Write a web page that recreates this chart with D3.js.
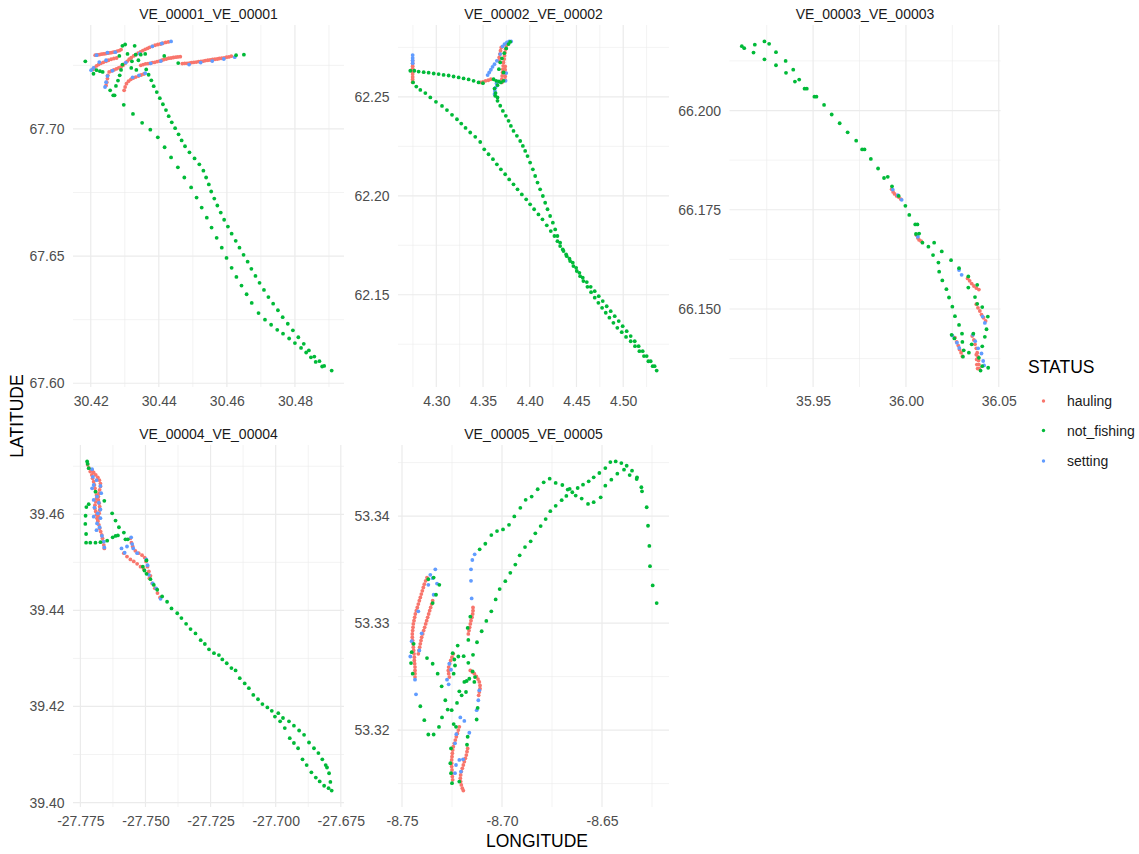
<!DOCTYPE html>
<html>
<head>
<meta charset="utf-8">
<script src="https://cdn.jsdelivr.net/npm/d3@7"></script>
<style>
  body { margin: 0; background: #ffffff; }
  svg { display: block; }
</style>
</head>
<body>
<svg id="chart" width="1139" height="854"></svg>
<script>
// Fishing status categories and their colours
const statuses = ["hauling", "not_fishing", "setting"];
const statusColors = ["#F8766D", "#00BA38", "#619CFF"];
const drawOrder = ["hauling", "setting", "not_fishing"];

// ---------- VE_00001 positions [longitude, latitude] ----------
const ve1Hauling = [
  [30.4213,67.7290],[30.4219,67.7291],[30.4225,67.7292],[30.4231,67.7294],[30.4237,67.7295],[30.4243,67.7296],[30.4249,67.7298],[30.4254,67.7299],[30.4260,67.7300],[30.4266,67.7302],[30.4272,67.7303],[30.4278,67.7306],[30.4284,67.7308],[30.4289,67.7312],
  [30.4206,67.7234],[30.4211,67.7241],[30.4217,67.7248],[30.4223,67.7253],[30.4230,67.7258],[30.4237,67.7262],[30.4245,67.7266],[30.4252,67.7270],[30.4260,67.7274],[30.4268,67.7277],[30.4276,67.7279],
  [30.4254,67.7224],[30.4261,67.7228],[30.4268,67.7232],[30.4275,67.7236],[30.4282,67.7240],[30.4289,67.7244],[30.4295,67.7250],[30.4301,67.7258],[30.4307,67.7266],[30.4313,67.7274],[30.4319,67.7280],[30.4326,67.7287],[30.4332,67.7292],[30.4339,67.7298],[30.4346,67.7303],[30.4353,67.7308],[30.4360,67.7313],[30.4367,67.7317],[30.4373,67.7321],[30.4381,67.7325],[30.4389,67.7329],[30.4397,67.7332],[30.4405,67.7334],[30.4412,67.7337],[30.4420,67.7340],[30.4428,67.7342],
  [30.4347,67.7250],[30.4354,67.7253],[30.4361,67.7256],[30.4368,67.7257],[30.4374,67.7258],[30.4381,67.7261],[30.4388,67.7262],[30.4395,67.7265],[30.4402,67.7267],[30.4409,67.7270],[30.4415,67.7273],[30.4422,67.7275],[30.4429,67.7278],[30.4436,67.7279],[30.4443,67.7281],[30.4450,67.7282],[30.4456,67.7283],[30.4463,67.7284],
  [30.4469,67.7257],[30.4476,67.7258],[30.4483,67.7258],[30.4490,67.7259],[30.4496,67.7261],[30.4503,67.7262],[30.4510,67.7263],[30.4517,67.7265],[30.4524,67.7266],[30.4531,67.7267],[30.4537,67.7269],[30.4544,67.7270],[30.4551,67.7271],[30.4558,67.7273],[30.4565,67.7274],[30.4572,67.7275],[30.4578,67.7277],[30.4585,67.7278],[30.4592,67.7279],[30.4599,67.7282],[30.4606,67.7283],[30.4613,67.7286],
  [30.4298,67.7152],[30.4301,67.7165],[30.4305,67.7178],[30.4311,67.7188],[30.4318,67.7195],[30.4325,67.7200],[30.4332,67.7204],[30.4340,67.7208],[30.4348,67.7212],[30.4356,67.7216],
  [30.4245,67.7171],[30.4247,67.7184],[30.4249,67.7198],[30.4250,67.7211]
];
const ve1Setting = [
  [30.4201,67.7231],[30.4208,67.7240],[30.4217,67.7290],[30.4249,67.7300],[30.4272,67.7302],[30.4225,67.7263],[30.4245,67.7270],[30.4264,67.7229],[30.4303,67.7261],[30.4381,67.7325],[30.4409,67.7336],[30.4436,67.7344],[30.4376,67.7258],[30.4406,67.7267],[30.4489,67.7253],[30.4523,67.7261],[30.4557,67.7267],[30.4591,67.7275],[30.4623,67.7282],[30.4323,67.7203],[30.4342,67.7211],[30.4360,67.7219],[30.4242,67.7165],[30.4245,67.7184],[30.4249,67.7208],[30.4344,67.7296]
];
const ve1NotFishing = [
  [30.4184,67.7266],[30.4208,67.7217],[30.4217,67.7231],[30.4227,67.7227],[30.4235,67.7224],[30.4257,67.7152],[30.4266,67.7132],[30.4274,67.7169],[30.4280,67.7190],[30.4285,67.7211],[30.4289,67.7232],[30.4293,67.7253],[30.4284,67.7287],[30.4293,67.7327],[30.4301,67.7332],[30.4329,67.7327],[30.4308,67.7295],[30.4332,67.7292],[30.4347,67.7292],[30.4360,67.7295],[30.4321,67.7266],[30.4340,67.7270],[30.4319,67.7240],[30.4334,67.7232],[30.4416,67.7287],[30.4457,67.7259],[30.4627,67.7290],[30.4650,67.7292],
  [30.4270,67.7132],[30.4297,67.7095],[30.4324,67.7059],[30.4351,67.7024],[30.4375,67.6997],[30.4397,67.6967],[30.4417,67.6928],[30.4436,67.6888],[30.4456,67.6849],[30.4475,67.6809],[30.4495,67.6770],[30.4511,67.6730],[30.4526,67.6691],[30.4541,67.6651],[30.4555,67.6612],[30.4570,67.6572],[30.4585,67.6533],[30.4599,67.6493],[30.4614,67.6454],[30.4628,67.6418],[30.4643,67.6384],[30.4658,67.6350],[30.4673,67.6316],[30.4693,67.6276],[30.4712,67.6250],[30.4730,67.6230],[30.4748,67.6210],[30.4765,67.6195],[30.4783,67.6176],[30.4800,67.6158],[30.4818,67.6139],[30.4833,67.6121],[30.4847,67.6102],[30.4861,67.6084],[30.4880,67.6066],[30.4908,67.6050],
  [30.4363,67.7234],[30.4370,67.7213],[30.4378,67.7191],[30.4385,67.7168],[30.4394,67.7145],[30.4403,67.7121],[30.4412,67.7097],[30.4421,67.7074],[30.4429,67.7050],[30.4438,67.7026],[30.4448,67.7003],[30.4458,67.6979],[30.4467,67.6955],[30.4477,67.6932],[30.4490,67.6908],[30.4505,67.6884],[30.4519,67.6861],[30.4531,67.6836],[30.4539,67.6809],[30.4547,67.6782],[30.4554,67.6754],[30.4563,67.6726],[30.4572,67.6699],[30.4582,67.6671],[30.4592,67.6643],[30.4603,67.6616],[30.4614,67.6588],[30.4626,67.6560],[30.4637,67.6533],[30.4649,67.6505],[30.4661,67.6478],[30.4672,67.6450],[30.4684,67.6422],[30.4696,67.6395],[30.4709,67.6367],[30.4722,67.6339],[30.4736,67.6313],[30.4750,67.6287],[30.4764,67.6260],[30.4779,67.6234],[30.4794,67.6208],[30.4810,67.6181],[30.4826,67.6155],[30.4841,67.6129],[30.4857,67.6105],[30.4872,67.6087],[30.4886,67.6068]
];

// ---------- VE_00002 ----------
const ve2Hauling = [
  [4.2747,62.2682],[4.2747,62.2669],[4.2747,62.2655],[4.2747,62.2642],[4.2747,62.2628],[4.2747,62.2615],[4.2747,62.2601],[4.2747,62.2588],[4.2747,62.2574],
  [4.3470,62.2573],[4.3499,62.2576],[4.3527,62.2581],[4.3556,62.2584],[4.3584,62.2589],
  [4.3702,62.2573],[4.3702,62.2589],[4.3705,62.2606],[4.3709,62.2623],[4.3712,62.2640],[4.3716,62.2657],[4.3719,62.2674],[4.3727,62.2691],[4.3730,62.2708],[4.3734,62.2724],[4.3741,62.2741],[4.3748,62.2758],[4.3762,62.2772],
  [4.3670,62.2682],[4.3673,62.2699],[4.3680,62.2716],[4.3687,62.2733],[4.3695,62.2750],
  [4.3737,62.2654],[4.3737,62.2637],[4.3737,62.2620],[4.3737,62.2603],[4.3737,62.2586]
];
const ve2Setting = [
  [4.2747,62.2711],[4.2747,62.2697],[4.2747,62.2684],[4.2747,62.2670],
  [4.3549,62.2610],[4.3566,62.2623],[4.3584,62.2637],[4.3602,62.2652],[4.3623,62.2665],[4.3648,62.2682],[4.3684,62.2716],[4.3709,62.2755],[4.3730,62.2767],[4.3755,62.2775],[4.3780,62.2780],[4.3801,62.2780],[4.3623,62.2514],[4.3627,62.2530],[4.3634,62.2547],[4.3645,62.2568],[4.3741,62.2581],[4.3748,62.2620]
];
const ve2NotFishing = [
  [4.2722,62.2632],[4.2765,62.2632],[4.2811,62.2628],[4.2865,62.2625],[4.2918,62.2622],[4.2972,62.2618],[4.3025,62.2615],[4.3078,62.2611],[4.3132,62.2608],[4.3185,62.2603],[4.3239,62.2598],[4.3292,62.2593],[4.3346,62.2588],[4.3399,62.2581],[4.3452,62.2573],[4.3499,62.2569],
  [4.2751,62.2573],[4.2786,62.2552],[4.2829,62.2535],[4.2883,62.2519],[4.2936,62.2497],[4.2996,62.2475],[4.3061,62.2454],[4.3114,62.2433],[4.3168,62.2409],[4.3221,62.2387],[4.3267,62.2365],[4.3313,62.2343],[4.3363,62.2320],[4.3417,62.2298],[4.3470,62.2272],[4.3513,62.2235],[4.3559,62.2210],[4.3606,62.2185],[4.3648,62.2159],[4.3691,62.2134],[4.3737,62.2109],[4.3780,62.2083],[4.3826,62.2058],[4.3869,62.2033],[4.3915,62.2007],[4.3962,62.1982],[4.4004,62.1957],[4.4047,62.1932],[4.4093,62.1906],[4.4136,62.1881],[4.4182,62.1851],[4.4225,62.1822],[4.4264,62.1797],[4.4296,62.1771],[4.4325,62.1746],[4.4361,62.1721],[4.4396,62.1695],[4.4432,62.1670],[4.4467,62.1645],[4.4503,62.1620],[4.4539,62.1594],[4.4574,62.1569],[4.4617,62.1540],[4.4656,62.1513],[4.4695,62.1485],[4.4734,62.1459],[4.4774,62.1434],[4.4813,62.1409],[4.4852,62.1384],[4.4895,62.1358],[4.4937,62.1333],[4.4984,62.1311],[4.5030,62.1287],[4.5080,62.1265],[4.5126,62.1240],[4.5173,62.1215],[4.5222,62.1190],[4.5269,62.1164],[4.5315,62.1139],[4.5358,62.1117],
  [4.3630,62.2505],[4.3655,62.2480],[4.3684,62.2455],[4.3712,62.2429],[4.3744,62.2404],[4.3773,62.2379],[4.3798,62.2353],[4.3826,62.2328],[4.3862,62.2303],[4.3898,62.2277],[4.3926,62.2252],[4.3951,62.2227],[4.3976,62.2201],[4.4004,62.2168],[4.4033,62.2134],[4.4058,62.2100],[4.4083,62.2067],[4.4111,62.2033],[4.4140,62.1999],[4.4165,62.1965],[4.4190,62.1932],[4.4218,62.1898],[4.4247,62.1864],[4.4272,62.1830],[4.4296,62.1797],[4.4325,62.1763],[4.4353,62.1729],[4.4389,62.1704],[4.4425,62.1682],[4.4460,62.1662],[4.4496,62.1636],[4.4531,62.1611],[4.4567,62.1586],[4.4610,62.1564],[4.4652,62.1540],[4.4695,62.1518],[4.4738,62.1493],[4.4781,62.1468],[4.4823,62.1442],[4.4866,62.1417],[4.4909,62.1392],[4.4952,62.1367],[4.4994,62.1341],[4.5037,62.1316],[4.5080,62.1291],[4.5123,62.1265],[4.5165,62.1240],[4.5208,62.1215],[4.5251,62.1190],[4.5294,62.1164],[4.5336,62.1139],
  [4.3613,62.2589],[4.3641,62.2581],[4.3670,62.2578],[4.3691,62.2573],[4.3670,62.2640],[4.3684,62.2674],[4.3702,62.2694],[4.3727,62.2721],[4.3748,62.2745],[4.3773,62.2767],[4.3791,62.2778],[4.3655,62.2559],[4.3623,62.2542],[4.3634,62.2519],[4.3655,62.2497],[4.3719,62.2623],[4.3719,62.2581]
];

// ---------- VE_00003 ----------
const ve3Hauling = [
  [35.9923,66.1802],[35.9931,66.1795],[35.9939,66.1790],[35.9950,66.1785],[35.9961,66.1782],[35.9972,66.1777],
  [36.0057,66.1686],[36.0064,66.1679],[36.0071,66.1674],[36.0082,66.1671],
  [36.0332,66.1577],[36.0343,66.1571],[36.0354,66.1564],[36.0366,66.1558],[36.0379,66.1553],[36.0393,66.1549],
  [36.0379,66.1512],[36.0388,66.1503],[36.0398,66.1495],[36.0407,66.1486],[36.0418,66.1478],[36.0429,66.1470],
  [36.0264,66.1428],[36.0273,66.1417],[36.0282,66.1408],[36.0289,66.1398],[36.0297,66.1390],[36.0304,66.1381],
  [36.0357,66.1432],[36.0366,66.1422],[36.0372,66.1411],[36.0379,66.1401],[36.0384,66.1390],[36.0388,66.1380],[36.0391,66.1370],[36.0393,66.1360],[36.0395,66.1350],
  [36.0379,66.1385],[36.0381,66.1373],[36.0382,66.1360],[36.0386,66.1350]
];
const ve3Setting = [
  [35.9929,66.1801],[35.9956,66.1787],[35.9977,66.1775],[36.0064,66.1682],[36.0286,66.1598],[36.0300,66.1586],[36.0425,66.1465],[36.0413,66.1481],[36.0250,66.1433],[36.0275,66.1415],[36.0287,66.1402],[36.0361,66.1435],[36.0373,66.1419],[36.0389,66.1401],[36.0407,66.1388],[36.0416,66.1369],[36.0421,66.1358]
];
const ve3NotFishing = [
  [35.9116,66.2162],[35.9129,66.2157],[35.9179,66.2146],[35.9186,66.2166],[35.9238,66.2174],[35.9263,66.2168],[35.9238,66.2129],[35.9300,66.2147],[35.9300,66.2114],[35.9352,66.2125],[35.9354,66.2095],[35.9393,66.2103],[35.9402,66.2073],[35.9425,66.2078],[35.9454,66.2055],[35.9466,66.2055],[35.9507,66.2035],[35.9518,66.2035],[35.9559,66.2014],[35.9600,66.1990],[35.9643,66.1968],[35.9686,66.1945],[35.9732,66.1924],[35.9764,66.1902],[35.9777,66.1902],[35.9811,66.1878],[35.9850,66.1854],[35.9882,66.1830],[35.9902,66.1833],[35.9925,66.1809],[35.9961,66.1785],[35.9997,66.1760],[36.0018,66.1737],[36.0050,66.1713],[36.0062,66.1713],[36.0054,66.1689],[36.0071,66.1690],[36.0089,66.1667],[36.0121,66.1657],[36.0152,66.1667],[36.0146,66.1636],[36.0193,66.1645],[36.0175,66.1617],[36.0243,66.1623],
  [36.0179,66.1594],[36.0196,66.1572],[36.0218,66.1550],[36.0232,66.1529],[36.0250,66.1506],[36.0264,66.1482],[36.0286,66.1460],[36.0302,66.1438],[36.0246,66.1435],[36.0261,66.1426],[36.0304,66.1417],[36.0311,66.1396],[36.0307,66.1380],[36.0339,66.1390],
  [36.0286,66.1603],[36.0336,66.1582],[36.0384,66.1561],[36.0336,66.1554],[36.0372,66.1530],[36.0384,66.1513],[36.0411,66.1505],[36.0441,66.1481],[36.0434,66.1449],[36.0425,66.1430],[36.0411,66.1406],[36.0363,66.1438],[36.0354,66.1411],[36.0393,66.1377],[36.0411,66.1356],[36.0402,66.1345],[36.0443,66.1352]
];

// ---------- VE_00004 ----------
const ve4Hauling = [
  [-27.7722,39.4703],[-27.7717,39.4696],[-27.7712,39.4689],[-27.7706,39.4682],[-27.7703,39.4675],[-27.7699,39.4668],[-27.7696,39.4661],[-27.7694,39.4654],[-27.7691,39.4647],[-27.7688,39.4640],[-27.7688,39.4633],[-27.7691,39.4626],[-27.7694,39.4619],[-27.7694,39.4612],[-27.7691,39.4606],[-27.7688,39.4599],[-27.7686,39.4592],[-27.7683,39.4585],[-27.7679,39.4578],[-27.7676,39.4571],[-27.7672,39.4564],[-27.7668,39.4557],[-27.7665,39.4550],[-27.7663,39.4543],[-27.7660,39.4536],[-27.7658,39.4529],
  [-27.7705,39.4692],[-27.7699,39.4687],[-27.7691,39.4682],[-27.7683,39.4677],[-27.7677,39.4671],[-27.7673,39.4664],[-27.7673,39.4658],[-27.7676,39.4651],[-27.7678,39.4644],[-27.7681,39.4637],[-27.7681,39.4630],[-27.7678,39.4623],[-27.7676,39.4616],[-27.7676,39.4609],[-27.7678,39.4602],[-27.7681,39.4595],[-27.7683,39.4588],
  [-27.7583,39.4519],[-27.7571,39.4512],[-27.7558,39.4506],[-27.7545,39.4502],[-27.7532,39.4497],[-27.7519,39.4491],[-27.7507,39.4486],[-27.7494,39.4477],[-27.7485,39.4467],[-27.7474,39.4456],[-27.7464,39.4446],[-27.7454,39.4436],[-27.7444,39.4427],
  [-27.7558,39.4550],[-27.7554,39.4541],[-27.7549,39.4533],[-27.7539,39.4524],[-27.7526,39.4519],[-27.7513,39.4515],[-27.7503,39.4510],[-27.7498,39.4502],[-27.7492,39.4491],[-27.7487,39.4481],[-27.7481,39.4472]
];
const ve4Setting = [
  [-27.7705,39.4694],[-27.7702,39.4678],[-27.7688,39.4671],[-27.7699,39.4661],[-27.7673,39.4659],[-27.7705,39.4654],[-27.7670,39.4644],[-27.7686,39.4637],[-27.7699,39.4630],[-27.7679,39.4624],[-27.7696,39.4614],[-27.7673,39.4610],[-27.7683,39.4602],[-27.7699,39.4595],[-27.7673,39.4592],[-27.7686,39.4581],[-27.7676,39.4573],[-27.7688,39.4567],[-27.7667,39.4555],[-27.7660,39.4543],[-27.7658,39.4531],
  [-27.7555,39.4552],[-27.7551,39.4538],[-27.7547,39.4529],[-27.7571,39.4533],[-27.7592,39.4529],[-27.7580,39.4520],[-27.7532,39.4519],[-27.7497,39.4506],[-27.7492,39.4494],[-27.7487,39.4474],[-27.7472,39.4456],[-27.7459,39.4446],[-27.7442,39.4424]
];
const ve4NotFishing = [
  [-27.7436,39.4429],[-27.7417,39.4418],[-27.7400,39.4404],[-27.7378,39.4394],[-27.7362,39.4384],[-27.7344,39.4372],[-27.7327,39.4361],[-27.7308,39.4352],[-27.7288,39.4338],[-27.7272,39.4330],[-27.7256,39.4319],[-27.7237,39.4311],[-27.7218,39.4307],[-27.7205,39.4298],[-27.7188,39.4290],[-27.7170,39.4280],[-27.7154,39.4275],[-27.7138,39.4259],[-27.7119,39.4248],[-27.7103,39.4238],[-27.7086,39.4224],[-27.7068,39.4215],[-27.7051,39.4205],[-27.7032,39.4198],
  [-27.7015,39.4191],[-27.6990,39.4186],[-27.6972,39.4176],[-27.6949,39.4169],[-27.6930,39.4160],[-27.6910,39.4150],[-27.6891,39.4141],[-27.6872,39.4125],[-27.6853,39.4113],[-27.6836,39.4103],[-27.6821,39.4090],[-27.6808,39.4078],[-27.6803,39.4073],[-27.6795,39.4061],[-27.6790,39.4043],
  [-27.7003,39.4179],[-27.6983,39.4169],[-27.6965,39.4155],[-27.6946,39.4134],[-27.6930,39.4124],[-27.6914,39.4113],[-27.6897,39.4090],[-27.6881,39.4078],[-27.6863,39.4063],[-27.6846,39.4052],[-27.6831,39.4044],[-27.6814,39.4035],[-27.6797,39.4030],[-27.6785,39.4025],
  [-27.7724,39.4710],[-27.7722,39.4705],[-27.7718,39.4696],[-27.7692,39.4647],[-27.7658,39.4628],[-27.7718,39.4621],[-27.7727,39.4615],[-27.7730,39.4597],[-27.7731,39.4580],[-27.7728,39.4559],[-27.7728,39.4541],[-27.7712,39.4541],[-27.7692,39.4541],[-27.7673,39.4542],[-27.7647,39.4545],[-27.7628,39.4602],[-27.7615,39.4587],[-27.7602,39.4573],[-27.7583,39.4562],[-27.7626,39.4552],[-27.7615,39.4555],[-27.7606,39.4556],[-27.7577,39.4548],[-27.7568,39.4548],
  [-27.7510,39.4491],[-27.7504,39.4483],[-27.7496,39.4476],[-27.7481,39.4465],[-27.7468,39.4453],[-27.7455,39.4443],[-27.7496,39.4504]
];

// ---------- VE_00005 ----------
const ve5Hauling = [
  [-8.73750,53.33426],[-8.73817,53.33395],[-8.73884,53.33364],[-8.73934,53.33333],[-8.73984,53.33302],[-8.74034,53.33271],[-8.74084,53.33240],[-8.74134,53.33209],[-8.74184,53.33178],[-8.74234,53.33147],[-8.74284,53.33116],[-8.74334,53.33085],[-8.74367,53.33054],[-8.74400,53.33023],[-8.74434,53.32992],[-8.74450,53.32961],[-8.74467,53.32930],[-8.74484,53.32899],[-8.74484,53.32868],[-8.74467,53.32837],[-8.74450,53.32806],[-8.74434,53.32775],[-8.74417,53.32744],[-8.74400,53.32713],[-8.74384,53.32682],[-8.74384,53.32651],[-8.74367,53.32620],[-8.74350,53.32589],[-8.74350,53.32558],[-8.74350,53.32527],[-8.74350,53.32496],
  [-8.73467,53.33209],[-8.73517,53.33178],[-8.73567,53.33147],[-8.73617,53.33116],[-8.73667,53.33085],[-8.73717,53.33054],[-8.73767,53.33023],[-8.73817,53.32992],[-8.73867,53.32961],[-8.73917,53.32930],[-8.73967,53.32899],[-8.74017,53.32868],[-8.74050,53.32837],[-8.74084,53.32806],[-8.74117,53.32775],[-8.74150,53.32744],[-8.74184,53.32713],
  [-8.71450,53.33147],[-8.71450,53.33116],[-8.71467,53.33085],[-8.71500,53.33054],[-8.71550,53.33023],[-8.71584,53.32992],[-8.71617,53.32961],[-8.71650,53.32930],[-8.71684,53.32899],
  [-8.72434,53.32713],[-8.72500,53.32682],[-8.72567,53.32651],[-8.72617,53.32620],[-8.72667,53.32589],[-8.72684,53.32558],[-8.72667,53.32527],[-8.72634,53.32496],
  [-8.71584,53.32558],[-8.71484,53.32542],[-8.71384,53.32527],[-8.71284,53.32502],[-8.71200,53.32477],[-8.71134,53.32450],[-8.71100,53.32418],[-8.71100,53.32387],[-8.71134,53.32356],[-8.71167,53.32325],
  [-8.72134,53.32031],[-8.72184,53.32000],[-8.72234,53.31969],[-8.72284,53.31938],[-8.72334,53.31907],[-8.72384,53.31876],[-8.72434,53.31845],[-8.72467,53.31814],[-8.72484,53.31783],[-8.72500,53.31752],[-8.72517,53.31721],[-8.72517,53.31690],[-8.72517,53.31659],[-8.72500,53.31628],[-8.72500,53.31597],[-8.72484,53.31566],[-8.72467,53.31535],
  [-8.71717,53.31829],[-8.71750,53.31798],[-8.71784,53.31767],[-8.71834,53.31736],[-8.71884,53.31705],[-8.71934,53.31674],[-8.71984,53.31643],[-8.72034,53.31612],[-8.72067,53.31581],[-8.72084,53.31550],[-8.72067,53.31519],[-8.72034,53.31488],[-8.71984,53.31457],[-8.71934,53.31435]
];
const ve5Setting = [
  [-8.73334,53.33503],[-8.71550,53.33503],[-8.71550,53.33395],[-8.71517,53.33231],[-8.71367,53.33643],[-8.71484,53.33590],[-8.73467,53.33420],[-8.73584,53.33451],[-8.73250,53.33370],[-8.73684,53.33358],[-8.73417,53.33265],[-8.74184,53.33110],[-8.74017,53.32905],[-8.74517,53.32831],[-8.74134,53.32744],[-8.74584,53.32688],[-8.74350,53.32471],[-8.74300,53.32334],[-8.72634,53.32620],[-8.72550,53.32564],[-8.72750,53.32471],[-8.72667,53.32428],[-8.71134,53.32372],[-8.71184,53.32279],[-8.71267,53.32186],[-8.72084,53.32118],[-8.71884,53.32086],[-8.71634,53.31975],[-8.72350,53.31876],[-8.72134,53.31721],[-8.71950,53.31727],[-8.72300,53.31674],[-8.72050,53.31612],[-8.72350,53.31597],[-8.72284,53.31962]
];
const ve5NotFishing = [
  [-8.73684,53.33410],[-8.73417,53.33426],[-8.73134,53.33358],[-8.73300,53.33265],[-8.73467,53.33187],[-8.74417,53.32806],[-8.74517,53.32728],[-8.74550,53.32626],[-8.74467,53.32527],[-8.73750,53.32673],[-8.73467,53.32620],[-8.73217,53.32527],[-8.73017,53.32409],[-8.74084,53.32223],[-8.73884,53.32093],[-8.73684,53.31959],[-8.73417,53.31959],[-8.73151,53.32030],
  [-8.72467,53.32719],[-8.72384,53.32660],[-8.72184,53.32688],[-8.71917,53.32691],[-8.71684,53.32629],[-8.71450,53.32704],[-8.72350,53.32604],[-8.72417,53.32527],[-8.71884,53.32450],[-8.71767,53.32459],[-8.71634,53.32480],[-8.71467,53.32548],[-8.71350,53.32496],[-8.71384,53.32450],[-8.71217,53.32207],[-8.71267,53.32099],[-8.71800,53.32356],[-8.72017,53.32325],[-8.72134,53.32362],[-8.72250,53.32254],[-8.72517,53.32186],[-8.72717,53.32192],[-8.72834,53.32279],[-8.73000,53.32118],[-8.72417,53.32056],[-8.72300,53.32031],[-8.71750,53.31863],[-8.72550,53.31829],[-8.72584,53.31690],[-8.72550,53.31597],[-8.72500,53.31504],[-8.72134,53.31519],[-8.71717,53.31938],
  [-8.71584,53.33060],[-8.71717,53.32955],[-8.71684,53.32843],[-8.71250,53.32821],[-8.72217,53.32790],
  [-8.71117,53.33690],[-8.70834,53.33742],[-8.70534,53.33823],[-8.70250,53.33860],[-8.69950,53.33876],[-8.69650,53.33919],[-8.69384,53.33997],[-8.69084,53.34077],[-8.68817,53.34152],[-8.68517,53.34183],[-8.68217,53.34251],[-8.67917,53.34316],[-8.67617,53.34350],[-8.67317,53.34310],[-8.66984,53.34291],[-8.66717,53.34248],
  [-8.66617,53.34254],[-8.66484,53.34223],[-8.66317,53.34192],[-8.66217,53.34263],[-8.66017,53.34164],[-8.65950,53.34294],[-8.65700,53.34114],[-8.65667,53.34325],[-8.65417,53.34130],[-8.65417,53.34363],[-8.65134,53.34403],[-8.65067,53.34176],[-8.64834,53.34449],[-8.64834,53.34285],[-8.64584,53.34505],[-8.64534,53.34341],[-8.64317,53.34511],[-8.64234,53.34397],[-8.64034,53.34496],[-8.63900,53.34434],[-8.63767,53.34471],[-8.63617,53.34384],[-8.63500,53.34425],[-8.63250,53.34363],[-8.63267,53.34347],[-8.63033,53.34270],[-8.63000,53.34232],[-8.62767,53.34083],[-8.62700,53.33910],[-8.62634,53.33721],[-8.62600,53.33532],[-8.62467,53.33352],[-8.62267,53.33187],
  [-8.71017,53.32924],[-8.70784,53.33020],[-8.70534,53.33110],[-8.70317,53.33221],[-8.70117,53.33318],[-8.69834,53.33392],[-8.69584,53.33470],[-8.69334,53.33547],[-8.69117,53.33634],[-8.68850,53.33711],[-8.68567,53.33764],[-8.68334,53.33839],[-8.68067,53.33907],[-8.67817,53.33972],[-8.67584,53.34046],[-8.67317,53.34096],[-8.67017,53.34149],[-8.66784,53.34189]
];

// ---------- Axis breaks per panel ----------
const ve1XTicks = [30.42, 30.44, 30.46, 30.48];
const ve1YTicks = [67.60, 67.65, 67.70];
const ve2XTicks = [4.30, 4.35, 4.40, 4.45, 4.50];
const ve2YTicks = [62.15, 62.20, 62.25];
const ve3XTicks = [35.95, 36.00, 36.05];
const ve3YTicks = [66.150, 66.175, 66.200];
const ve4XTicks = [-27.775, -27.750, -27.725, -27.700, -27.675];
const ve4YTicks = [39.40, 39.42, 39.44, 39.46];
const ve5XTicks = [-8.75, -8.70, -8.65];
const ve5YTicks = [53.32, 53.33, 53.34];

const vessels = [
  { id: "VE_00001_VE_00001", data: { hauling: ve1Hauling, not_fishing: ve1NotFishing, setting: ve1Setting }, xTicks: ve1XTicks, yTicks: ve1YTicks, xFmt: ".2f", yFmt: ".2f" },
  { id: "VE_00002_VE_00002", data: { hauling: ve2Hauling, not_fishing: ve2NotFishing, setting: ve2Setting }, xTicks: ve2XTicks, yTicks: ve2YTicks, xFmt: ".2f", yFmt: ".2f" },
  { id: "VE_00003_VE_00003", data: { hauling: ve3Hauling, not_fishing: ve3NotFishing, setting: ve3Setting }, xTicks: ve3XTicks, yTicks: ve3YTicks, xFmt: ".2f", yFmt: ".3f" },
  { id: "VE_00004_VE_00004", data: { hauling: ve4Hauling, not_fishing: ve4NotFishing, setting: ve4Setting }, xTicks: ve4XTicks, yTicks: ve4YTicks, xFmt: ".3f", yFmt: ".2f" },
  { id: "VE_00005_VE_00005", data: { hauling: ve5Hauling, not_fishing: ve5NotFishing, setting: ve5Setting }, xTicks: ve5XTicks, yTicks: ve5YTicks, xFmt: ".2f", yFmt: ".2f" }
];

// ---------- Layout ----------
const FONT = '"Liberation Sans", Arial, Helvetica, sans-serif';
const panelW = 271, panelH = 362;
const colLeft = [73, 398, 729.5];
const rowTop = [25, 445];
const pointR = 1.9;
const gridColor = "#ebebeb";

const color = d3.scaleOrdinal().domain(statuses).range(statusColors);
const svg = d3.select("#chart");
svg.append("rect").attr("width", 1139).attr("height", 854).attr("fill", "#ffffff");

const asciiMinus = fmt => d => d3.format(fmt)(d).replace("\u2212", "-");

function minorBreaks(ticks, domain) {
  const step = ticks[1] - ticks[0];
  const out = [];
  for (let k = -1; k < ticks.length; k++) {
    const m = ticks[0] + step * (k + 0.5);
    if (m >= domain[0] && m <= domain[1]) out.push(m);
  }
  return out;
}

vessels.forEach((v, i) => {
  const left = colLeft[i % 3];
  const top = rowTop[Math.floor(i / 3)];
  const all = statuses.flatMap(s => v.data[s]);
  const xe = d3.extent(all, d => d[0]);
  const ye = d3.extent(all, d => d[1]);
  const xp = (xe[1] - xe[0]) * 0.05, yp = (ye[1] - ye[0]) * 0.05;
  const x = d3.scaleLinear().domain([xe[0] - xp, xe[1] + xp]).range([left, left + panelW]);
  const y = d3.scaleLinear().domain([ye[0] - yp, ye[1] + yp]).range([top + panelH, top]);

  const g = svg.append("g").attr("class", "panel");

  // minor grid
  const gm = g.append("g");
  gm.selectAll("line.mx").data(minorBreaks(v.xTicks, x.domain())).join("line")
    .attr("x1", d => x(d)).attr("x2", d => x(d)).attr("y1", top).attr("y2", top + panelH)
    .attr("stroke", gridColor).attr("stroke-width", 0.6);
  gm.selectAll("line.my").data(minorBreaks(v.yTicks, y.domain())).join("line")
    .attr("y1", d => y(d)).attr("y2", d => y(d)).attr("x1", left).attr("x2", left + panelW)
    .attr("stroke", gridColor).attr("stroke-width", 0.6);
  // major grid
  const gM = g.append("g");
  gM.selectAll("line.x").data(v.xTicks).join("line")
    .attr("x1", d => x(d)).attr("x2", d => x(d)).attr("y1", top).attr("y2", top + panelH)
    .attr("stroke", gridColor).attr("stroke-width", 1.2);
  gM.selectAll("line.y").data(v.yTicks).join("line")
    .attr("y1", d => y(d)).attr("y2", d => y(d)).attr("x1", left).attr("x2", left + panelW)
    .attr("stroke", gridColor).attr("stroke-width", 1.2);

  // axes (labels only)
  const ax = g.append("g").attr("transform", `translate(0,${top + panelH})`)
    .call(d3.axisBottom(x).tickValues(v.xTicks).tickFormat(asciiMinus(v.xFmt)).tickSize(0).tickPadding(9.5));
  const ay = g.append("g").attr("transform", `translate(${left},0)`)
    .call(d3.axisLeft(y).tickValues(v.yTicks).tickFormat(asciiMinus(v.yFmt)).tickSize(0).tickPadding(8.5));
  [ax, ay].forEach(a => {
    a.select(".domain").remove();
    a.attr("font-size", 14).attr("font-family", FONT);
    a.selectAll("text").attr("fill", "#4d4d4d");
  });

  // points
  const gp = g.append("g");
  drawOrder.forEach(s => {
    gp.append("g").selectAll("circle").data(v.data[s]).join("circle")
      .attr("cx", d => x(d[0])).attr("cy", d => y(d[1])).attr("r", pointR)
      .attr("fill", color(s));
  });

  // strip title
  g.append("text").attr("x", left + panelW / 2).attr("y", top - 11.5)
    .attr("text-anchor", "middle").attr("dominant-baseline", "central")
    .attr("font-family", FONT).attr("font-size", 14).attr("fill", "#1a1a1a").text(v.id);
});

// axis titles
svg.append("text").attr("x", 537).attr("y", 841).attr("text-anchor", "middle")
  .attr("dominant-baseline", "central").attr("font-family", FONT).attr("font-size", 17.5)
  .attr("fill", "#000").text("LONGITUDE");
svg.append("text").attr("transform", "translate(17,416) rotate(-90)").attr("text-anchor", "middle")
  .attr("dominant-baseline", "central").attr("font-family", FONT).attr("font-size", 17.5)
  .attr("fill", "#000").text("LATITUDE");

// legend
const lg = svg.append("g");
lg.append("text").attr("x", 1028).attr("y", 367).attr("dominant-baseline", "central")
  .attr("font-family", FONT).attr("font-size", 17.5).attr("fill", "#000").text("STATUS");
const legendY = [401, 430.5, 461];
statuses.forEach((s, k) => {
  lg.append("circle").attr("cx", 1043.5).attr("cy", legendY[k]).attr("r", 1.7).attr("fill", color(s));
  lg.append("text").attr("x", 1067).attr("y", legendY[k]).attr("dominant-baseline", "central")
    .attr("font-family", FONT).attr("font-size", 14).attr("fill", "#1a1a1a").text(s);
});
</script>
</body>
</html>
